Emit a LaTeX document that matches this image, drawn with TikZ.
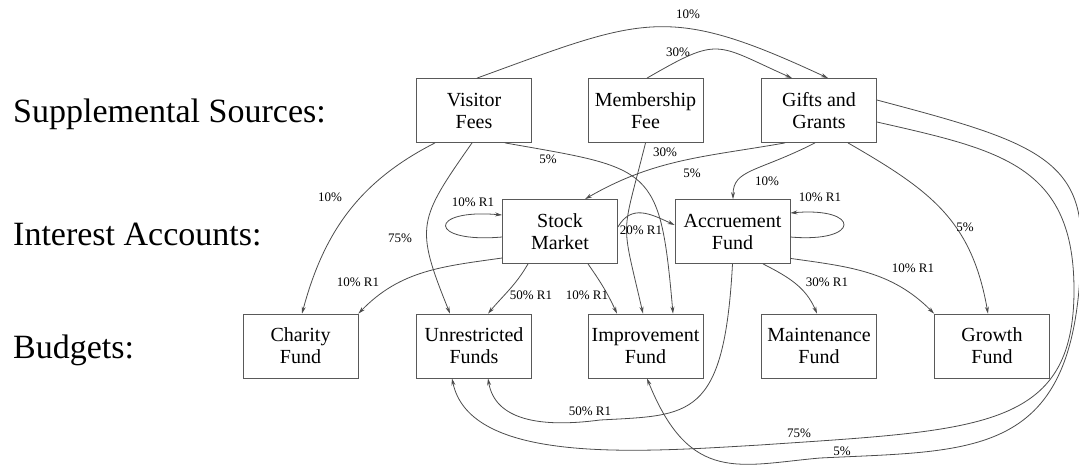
\documentclass[tikz,border=0pt]{standalone}
\usepackage{fontspec}
\setmainfont{Liberation Serif}
\usetikzlibrary{arrows.meta}

\begin{document}
\begin{tikzpicture}
[every node/.style={inner sep=0pt},
 box/.style={rectangle, minimum width=115pt, minimum height=64pt, draw=black!65, line width=0.8pt, align=center, font=\fontsize{20}{22}\selectfont},
 row/.style={anchor=base west, font=\fontsize{34}{40}\selectfont},
 lab/.style={font=\fontsize{13}{15}\selectfont},
 flow/.style={line width=0.8pt, color=black!70, -{Stealth[length=7pt, width=4pt]}}]
\useasboundingbox (0pt, 0pt) rectangle (1079pt, -467pt);
\node (sup) [row] at (13pt, -122pt) {Supplemental Sources:};
\node (int) [row] at (13pt, -245pt) {Interest Accounts:};
\node (bud) [row] at (13pt, -358pt) {Budgets:};
\node (vis) [box] at (474pt, -110.5pt) {Visitor\\Fees};
\node (mem) [box] at (645.5pt, -110.5pt) {Membership\\Fee};
\node (gift) [box] at (819pt, -110.5pt) {Gifts and\\Grants};
\node (stock) [box] at (560pt, -231.5pt) {Stock\\Market};
\node (accr) [box] at (732.5pt, -231.5pt) {Accruement\\Fund};
\node (char) [box] at (300.5pt, -346pt) {Charity\\Fund};
\node (unres) [box] at (474pt, -346pt) {Unrestricted\\Funds};
\node (impr) [box] at (645.5pt, -346pt) {Improvement\\Fund};
\node (maint) [box] at (819pt, -346pt) {Maintenance\\Fund};
\node (grow) [box] at (992pt, -346pt) {Growth\\Fund};
% supplemental sources
\draw [flow] ([xshift=3pt]vis.north) to [out=20, in=155, looseness=1.3] ([xshift=9pt]gift.north);
\draw [flow] ([xshift=1.5pt]mem.north) to [out=30, in=156, looseness=1.5] ([xshift=-27pt]gift.north);
\draw [flow] ([xshift=-39pt]vis.south) to [out=207, in=75] ([xshift=1.5pt]char.north);
\draw [flow] ([xshift=-2pt]vis.south) to [out=235, in=112, looseness=1.4] ([xshift=-24pt]unres.north);
\draw [flow] ([xshift=31pt]vis.south) to [out=-10, in=95, looseness=1.6] ([xshift=27.5pt]impr.north);
\draw [flow] (mem.south) to [out=256, in=103, looseness=1.5] ([xshift=-2.5pt]impr.north);
\draw [flow] ([xshift=-34pt]gift.south) to [out=190, in=30] ([xshift=25pt]stock.north);
\draw [flow] ([xshift=-4pt]gift.south) to [out=207, in=90, out distance=65pt, in distance=30pt] ([xshift=0.5pt]accr.north);
\draw [flow] ([xshift=29pt]gift.south) to [out=-30, in=100, looseness=1.1] ([xshift=-4pt]grow.north);
\draw [flow] ([yshift=-11.5pt]gift.east) .. controls (1000pt, -150pt) and (1074pt, -165pt) .. (1074pt, -290pt)
  .. controls (1074pt, -430pt) and (980pt, -430pt) .. (760pt, -445pt)
  .. controls (640pt, -452pt) and (470pt, -465pt) .. ([xshift=-22pt]unres.south);
\draw [flow] ([yshift=10.5pt]gift.east) .. controls (1020pt, -138pt) and (1081pt, -155pt) .. (1081pt, -240pt)
  .. controls (1081pt, -460pt) and (980pt, -450pt) .. (820pt, -458pt)
  .. controls (740pt, -465pt) and (690pt, -485pt) .. ([xshift=1.5pt]impr.south);
% interest accounts
\draw [flow] ([yshift=-5.5pt]stock.west) to [out=185, in=175, out distance=75pt, in distance=75pt] ([yshift=16.5pt]stock.west);
\draw [flow] ([yshift=-5.5pt]accr.east) to [out=-5, in=5, out distance=71pt, in distance=71pt] ([yshift=18.5pt]accr.east);
\draw [flow] ([yshift=4.5pt]stock.east) to [out=60, in=155, looseness=1.2] ([yshift=6.5pt]accr.west);
\draw [flow] ([yshift=-26.5pt]stock.west) to [out=188, in=46] (char.north east);
\draw [flow] ([xshift=-32pt]stock.south) to [out=240, in=50] ([xshift=14pt]unres.north);
\draw [flow] ([xshift=28pt]stock.south) to [out=-55, in=115] ([xshift=-28.5pt]impr.north);
\draw [flow] ([xshift=30.5pt]accr.south) to [out=-27, in=113] ([xshift=-2pt]maint.north);
\draw [flow] ([yshift=5.5pt]accr.south east) to [out=-8, in=135] (grow.north west);
\draw [flow] (accr.south) .. controls (724pt, -420pt) and (690pt, -415pt) .. (600pt, -420pt)
  .. controls (540pt, -428pt) and (495pt, -420pt) .. ([xshift=14pt]unres.south);
% labels
\node (l1) [lab] at (688pt, -14pt) {10\%};
\node (l2) [lab] at (678pt, -52pt) {30\%};
\node (l3) [lab] at (330pt, -197pt) {10\%};
\node (l4) [lab] at (400pt, -238pt) {75\%};
\node (l5) [lab] at (548pt, -159pt) {5\%};
\node (l6) [lab] at (665pt, -152pt) {30\%};
\node (l7) [lab] at (692pt, -173pt) {5\%};
\node (l8) [lab] at (767pt, -181pt) {10\%};
\node (l9) [lab] at (965pt, -227pt) {5\%};
\node (l10) [lab] at (473pt, -202pt) {10\% R1};
\node (l11) [lab] at (820pt, -197pt) {10\% R1};
\node (l12) [lab] at (641pt, -230pt) {20\% R1};
\node (l13) [lab] at (358pt, -282pt) {10\% R1};
\node (l14) [lab] at (531pt, -295pt) {50\% R1};
\node (l15) [lab] at (587pt, -295pt) {10\% R1};
\node (l16) [lab] at (827pt, -282pt) {30\% R1};
\node (l17) [lab] at (913pt, -268pt) {10\% R1};
\node (l18) [lab] at (590pt, -411pt) {50\% R1};
\node (l19) [lab] at (799pt, -433pt) {75\%};
\node (l20) [lab] at (842pt, -451pt) {5\%};
\end{tikzpicture}
\end{document}
